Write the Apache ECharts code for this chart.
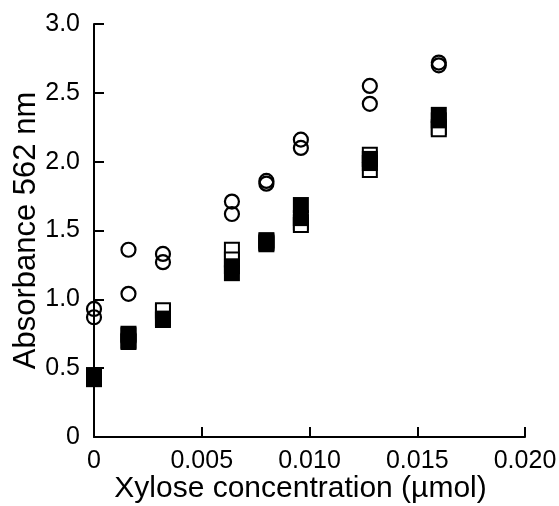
<!DOCTYPE html>
<html>
<head>
<meta charset="utf-8">
<script src="https://cdn.jsdelivr.net/npm/echarts@6/dist/echarts.min.js"></script>
<style>
html,body{margin:0;padding:0;background:#fff;}
#chart{width:559px;height:506px;}
</style>
</head>
<body>
<div id="chart"></div>
<script>
// Xylose concentration (µmol)
const xValues = [0, 0.0016, 0.0032, 0.0064, 0.008, 0.0096, 0.0128, 0.016];
// open circles (duplicates)
const circleA = [0.93, 1.36, 1.33, 1.71, 1.86, 2.16, 2.55, 2.72];
const circleB = [0.87, 1.04, 1.27, 1.62, 1.84, 2.10, 2.42, 2.70];
// open squares (duplicates)
const openA = [0.44, 0.74, 0.91, 1.36, 1.42, 1.56, 2.05, 2.25];
const openB = [0.43, 0.70, 0.92, 1.29, 1.41, 1.54, 1.94, 2.235];
// filled squares (duplicates)
const filledA = [0.45, 0.75, 0.86, 1.24, 1.43, 1.685, 2.02, 2.34];
const filledB = [0.42, 0.69, 0.85, 1.19, 1.40, 1.59, 1.99, 2.30];

const xTickValues = [0, 0.005, 0.010, 0.015, 0.020];
const xTickLabels = ['0', '0.005', '0.010', '0.015', '0.020'];
const yTickValues = [0, 0.5, 1.0, 1.5, 2.0, 2.5, 3.0];
const yTickLabels = ['0', '0.5', '1.0', '1.5', '2.0', '2.5', '3.0'];

function pair(ys) { return xValues.map((x, i) => [x, ys[i]]); }
function lookup(vals, labels, v) {
  for (let i = 0; i < vals.length; i++) if (Math.abs(vals[i] - v) < 1e-9) return labels[i];
  return '';
}

const font = 'Liberation Sans, Arial, Helvetica, sans-serif';
const chart = echarts.init(document.getElementById('chart'), null, {renderer: 'canvas'});

const circleStyle = {color: 'rgba(0,0,0,0)', borderColor: '#000', borderWidth: 2.2, opacity: 1};
const openStyle = {color: '#fff', borderColor: '#000', borderWidth: 2, opacity: 1};
const filledStyle = {color: '#000', borderWidth: 0, opacity: 1};

chart.setOption({
  animation: false,
  backgroundColor: '#fff',
  grid: {left: 94, right: 34, top: 24, bottom: 69, containLabel: false, outerBoundsMode: 'none'},
  xAxis: {
    type: 'value', min: 0, max: 0.02, interval: 0.005,
    name: 'Xylose concentration (µmol)', nameLocation: 'middle', nameGap: 37, nameMoveOverlap: false,
    nameTextStyle: {fontFamily: font, fontSize: 30, color: '#000', padding: [0, 18, 0, 0]},
    axisLine: {show: true, lineStyle: {color: '#000', width: 2}},
    axisTick: {show: true, inside: true, length: 10, lineStyle: {color: '#000', width: 2}},
    axisLabel: {margin: 12, fontFamily: font, fontSize: 25, color: '#000',
      formatter: v => lookup(xTickValues, xTickLabels, v)},
    splitLine: {show: false}
  },
  yAxis: {
    type: 'value', min: 0, max: 3, interval: 0.5,
    name: 'Absorbance 562 nm', nameLocation: 'middle', nameGap: 52, nameMoveOverlap: false,
    nameTextStyle: {fontFamily: font, fontSize: 31, color: '#000'},
    axisLine: {show: true, lineStyle: {color: '#000', width: 2}},
    axisTick: {show: true, inside: true, length: 10, lineStyle: {color: '#000', width: 2}},
    axisLabel: {margin: 14, fontFamily: font, fontSize: 25, color: '#000',
      formatter: v => lookup(yTickValues, yTickLabels, v)},
    splitLine: {show: false}
  },
  series: [
    {type: 'scatter', data: pair(openA), symbol: 'rect', symbolSize: 14, itemStyle: openStyle, clip: false, z: 2},
    {type: 'scatter', data: pair(openB), symbol: 'rect', symbolSize: 14, itemStyle: openStyle, clip: false, z: 2},
    {type: 'scatter', data: pair(filledA), symbol: 'rect', symbolSize: 16, itemStyle: filledStyle, clip: false, z: 3},
    {type: 'scatter', data: pair(filledB), symbol: 'rect', symbolSize: 16, itemStyle: filledStyle, clip: false, z: 3},
    {type: 'scatter', data: pair(circleA), symbol: 'circle', symbolSize: 14, itemStyle: circleStyle, clip: false, z: 4},
    {type: 'scatter', data: pair(circleB), symbol: 'circle', symbolSize: 14, itemStyle: circleStyle, clip: false, z: 4}
  ]
});
</script>
</body>
</html>
